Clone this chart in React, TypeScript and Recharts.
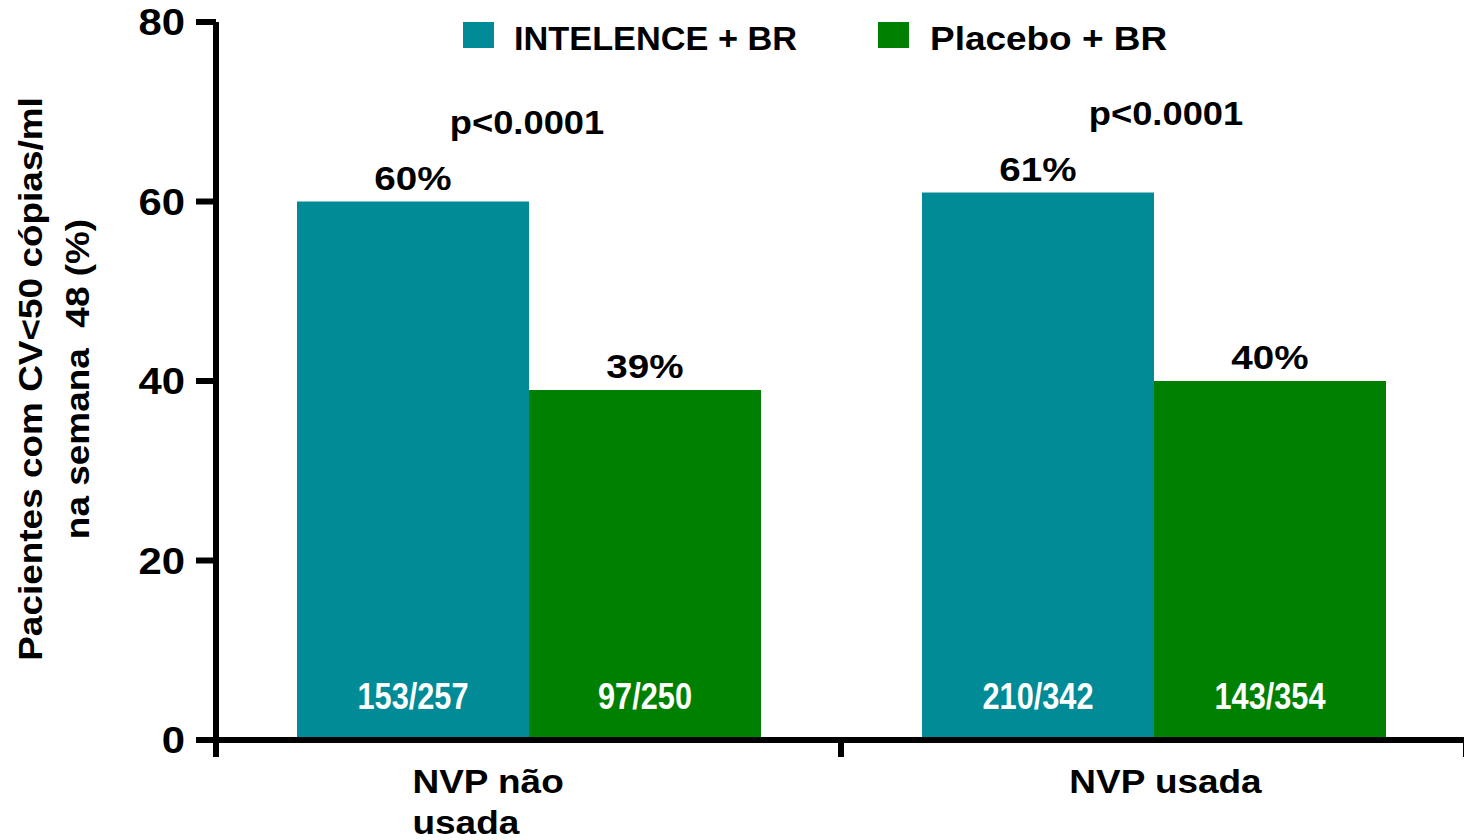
import React from 'react';
import { BarChart, Bar, XAxis, YAxis, LabelList } from 'recharts';

const CATEGORY_LINES = [['NVP não', 'usada'], ['NVP usada']];
const INTELENCE = [60, 61];
const PLACEBO = [39, 40];
const INTELENCE_N = ['153/257', '210/342'];
const PLACEBO_N = ['97/250', '143/354'];
const P_VALUES = ['p<0.0001', 'p<0.0001'];
const Y_TICKS = [0, 20, 40, 60, 80];

const SERIES = [
    { key: 'intelence', name: 'INTELENCE + BR', color: '#008b96' },
    { key: 'placebo', name: 'Placebo + BR', color: '#008000' },
];

const FONT = '"Liberation Sans", Arial, Helvetica, sans-serif';
const CHART_W = 1476;
const MARGIN_R = 10;
const Y_AXIS_W = 216;
const BAND = (CHART_W - MARGIN_R - Y_AXIS_W) / CATEGORY_LINES.length;

const DATA = CATEGORY_LINES.map((lines, i) => ({
    name: lines.join(' '),
    intelence: INTELENCE[i],
    placebo: PLACEBO[i],
    nIntelence: INTELENCE_N[i],
    nPlacebo: PLACEBO_N[i],
    p: P_VALUES[i],
}));

type TProps = { x: number; y: number; size: number; anchor?: 'start' | 'middle' | 'end'; fill?: string; sx?: number; rotate?: number; children: React.ReactNode };

// bold text stretched horizontally, like the slide's lettering
function WideText({ x, y, size, anchor = 'middle', fill = '#000', sx = 1.12, rotate = 0, children }: TProps) {
    return (
        <text transform={`translate(${x},${y}) rotate(${rotate}) scale(${sx},1)`} textAnchor={anchor}
            fontSize={size} fontWeight={700} fontFamily={FONT} fill={fill}>
            {children}
        </text>
    );
}

const ValueLabel = (props: any) => {
    const { x, y, width, value } = props;
    return <WideText x={x + width / 2} y={y - 12} size={33} sx={1.17}>{`${value}%`}</WideText>;
};

const CountLabel = (props: any) => {
    const { x, y, width, height, value } = props;
    return <WideText x={x + width / 2} y={y + height - 31} size={37} sx={0.83} fill="#fff">{value}</WideText>;
};

const PLabel = (props: any) => {
    const { x, y, width, value, index } = props;
    return <WideText x={x + width + (index === 0 ? -2 : 12)} y={y - 68} size={33} sx={1.1}>{value}</WideText>;
};

const YTick = (props: any) => {
    const { x, y, payload } = props;
    return <WideText x={x} y={y + 13} size={37} anchor="end" sx={1.13}>{payload.value}</WideText>;
};

const XTick = (props: any) => {
    const { x, y, index } = props;
    const lines = CATEGORY_LINES[index] || [];
    // first label is set flush-left under its group, second sits centred
    const single = lines.length === 1;
    const tx = single ? x + 12 : x - 116;
    const isLast = index === CATEGORY_LINES.length - 1;
    return (
        <g>
            {/* downward marks at the group boundaries */}
            <line x1={x - BAND / 2} x2={x - BAND / 2} y1={y} y2={y + 17} stroke="#000" strokeWidth={6} />
            {isLast && <line x1={x + BAND / 2} x2={x + BAND / 2} y1={y} y2={y + 17} stroke="#000" strokeWidth={6} />}
            {lines.map((l, i) => (
                <WideText key={i} x={tx} y={y + 53 + i * 41} size={33} anchor={single ? 'middle' : 'start'} sx={1.12}>{l}</WideText>
            ))}
        </g>
    );
};

export default function App() {
    return (
        <div style={{ position: 'absolute', left: 0, top: 0, width: 1464, height: 840, overflow: 'hidden', background: '#fff' }}>
            <BarChart width={CHART_W} height={840} data={DATA} margin={{ top: 22, right: MARGIN_R, left: 0, bottom: 0 }}
                barSize={232} barGap={0}>
                <XAxis dataKey="name" height={100} tickLine={false} tickSize={0} tickMargin={0}
                    axisLine={{ stroke: '#000', strokeWidth: 6 }} tick={<XTick />} interval={0} />
                <YAxis width={Y_AXIS_W} domain={[0, 80]} ticks={Y_TICKS} interval={0} tickSize={20} tickMargin={11}
                    axisLine={{ stroke: '#000', strokeWidth: 6 }} tickLine={{ stroke: '#000', strokeWidth: 6 }}
                    tick={<YTick />} />
                <Bar dataKey="intelence" fill={SERIES[0].color} isAnimationActive={false}>
                    <LabelList dataKey="intelence" content={<ValueLabel />} />
                    <LabelList dataKey="nIntelence" content={<CountLabel />} />
                    <LabelList dataKey="p" content={<PLabel />} />
                </Bar>
                <Bar dataKey="placebo" fill={SERIES[1].color} isAnimationActive={false}>
                    <LabelList dataKey="placebo" content={<ValueLabel />} />
                    <LabelList dataKey="nPlacebo" content={<CountLabel />} />
                </Bar>
            </BarChart>
            {/* legend and rotated axis title */}
            <svg width={1464} height={840} style={{ position: 'absolute', left: 0, top: 0, pointerEvents: 'none' }}>
                <rect x={463} y={22} width={31} height={26} fill={SERIES[0].color} />
                <WideText x={514} y={50} size={33} anchor="start" sx={1.04}>{SERIES[0].name}</WideText>
                <rect x={878} y={22} width={31} height={26} fill={SERIES[1].color} />
                <WideText x={930} y={50} size={33} anchor="start" sx={1.12}>{SERIES[1].name}</WideText>
                <WideText x={42} y={379} size={33} rotate={-90} sx={1.12}>Pacientes com CV&lt;50 cópias/ml</WideText>
                <WideText x={89} y={379} size={33} rotate={-90} sx={1.12}>{'na semana\u00a0 48 (%)'}</WideText>
            </svg>
        </div>
    );
}
